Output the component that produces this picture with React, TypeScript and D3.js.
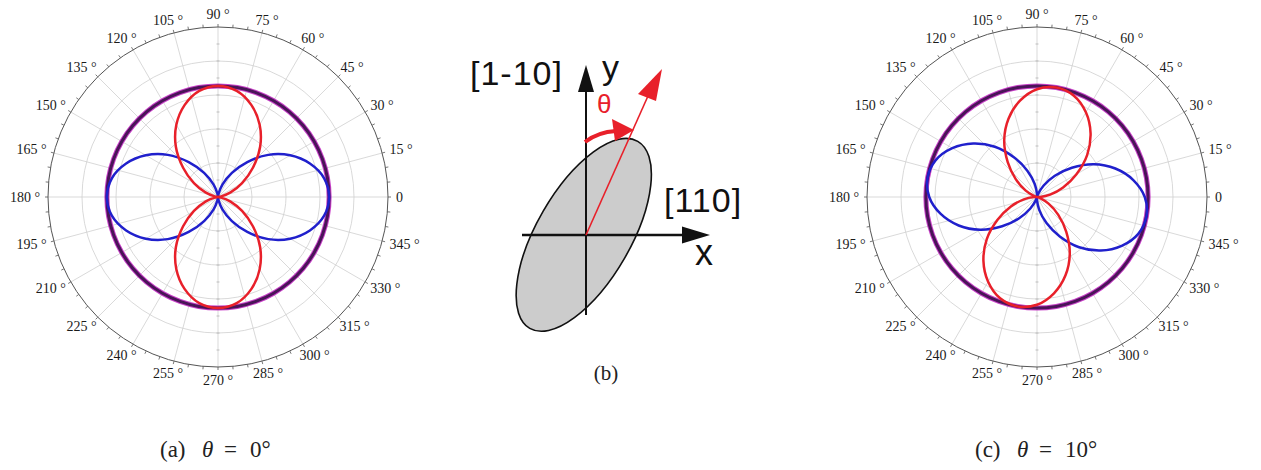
import React, { useEffect, useRef } from "react";
import * as d3 from "d3";

// sampled intensity, every 10 deg from 0 to 350 (normalised)
const sampleAngles = d3.range(0, 360, 10);

// panel (a), theta = 0
const blueA = [1, 0.97, 0.88, 0.75, 0.59, 0.41, 0.25, 0.12, 0.03, 0, 0.03, 0.12, 0.25, 0.41, 0.59, 0.75, 0.88, 0.97,
  1, 0.97, 0.88, 0.75, 0.59, 0.41, 0.25, 0.12, 0.03, 0, 0.03, 0.12, 0.25, 0.41, 0.59, 0.75, 0.88, 0.97];
const redA = [0, 0.03, 0.12, 0.25, 0.41, 0.59, 0.75, 0.88, 0.97, 1, 0.97, 0.88, 0.75, 0.59, 0.41, 0.25, 0.12, 0.03,
  0, 0.03, 0.12, 0.25, 0.41, 0.59, 0.75, 0.88, 0.97, 1, 0.97, 0.88, 0.75, 0.59, 0.41, 0.25, 0.12, 0.03];

// panel (c), theta = 10
const blueC = [0.97, 0.88, 0.75, 0.59, 0.41, 0.25, 0.12, 0.03, 0, 0.03, 0.12, 0.25, 0.41, 0.59, 0.75, 0.88, 0.97, 1,
  0.97, 0.88, 0.75, 0.59, 0.41, 0.25, 0.12, 0.03, 0, 0.03, 0.12, 0.25, 0.41, 0.59, 0.75, 0.88, 0.97, 1];
const redC = [0.03, 0.12, 0.25, 0.41, 0.59, 0.75, 0.88, 0.97, 1, 0.97, 0.88, 0.75, 0.59, 0.41, 0.25, 0.12, 0.03, 0,
  0.03, 0.12, 0.25, 0.41, 0.59, 0.75, 0.88, 0.97, 1, 0.97, 0.88, 0.75, 0.59, 0.41, 0.25, 0.12, 0.03, 0];

const tickAngles = d3.range(0, 360, 15);
const tickLabels = tickAngles.map(a => (a === 0 ? "0" : `${a} °`));
const ringFractions = [0.2, 0.4, 0.6, 0.8, 1];

const R = 170;
const BLUE = "#2020cc";
const RED = "#e8202a";
const PURPLE = "#4a1458";
const MAGENTA = "#c840c8";

function drawPolar(g: any, blue: number[], red: number[]) {
  const r = d3.scaleLinear().domain([0, 1.53]).range([0, R]);
  const rad = (deg: number) => (deg * Math.PI) / 180;

  // rings and spokes
  g.selectAll(".ring")
    .data(ringFractions.slice(0, -1))
    .join("circle")
    .attr("r", (f: number) => R * f)
    .attr("fill", "none")
    .attr("stroke", "#cfcfcf")
    .attr("stroke-width", 0.8);
  g.selectAll(".spoke")
    .data(tickAngles)
    .join("line")
    .attr("x2", (a: number) => R * Math.cos(rad(a)))
    .attr("y2", (a: number) => -R * Math.sin(rad(a)))
    .attr("stroke", "#cfcfcf")
    .attr("stroke-width", 0.8);

  // small ticks along vertical spoke
  const vt = d3.range(1, 10).flatMap(i => [R * i / 10, -R * i / 10]);
  g.selectAll(".vtick")
    .data(vt)
    .join("line")
    .attr("x1", -1.5)
    .attr("x2", 1.5)
    .attr("y1", (d: number) => d)
    .attr("y2", (d: number) => d)
    .attr("stroke", "#aaa")
    .attr("stroke-width", 0.7);

  g.append("circle").attr("r", R).attr("fill", "none").attr("stroke", "#555").attr("stroke-width", 1);
  g.selectAll(".otick")
    .data(d3.range(0, 360, 5))
    .join("line")
    .attr("x1", (a: number) => R * Math.cos(rad(a)))
    .attr("y1", (a: number) => -R * Math.sin(rad(a)))
    .attr("x2", (a: number) => (R + 3) * Math.cos(rad(a)))
    .attr("y2", (a: number) => -(R + 3) * Math.sin(rad(a)))
    .attr("stroke", "#555")
    .attr("stroke-width", 0.8);

  // angle labels, centred a little outside the rim
  const labels = g.selectAll(".lab")
    .data(tickAngles)
    .join("text")
    .attr("text-anchor", "middle")
    .attr("dominant-baseline", "central")
    .attr("font-family", "Liberation Serif, serif")
    .attr("font-size", 14)
    .attr("fill", "#1a1a1a")
    .text((a: number, i: number) => tickLabels[i]);
  labels.each(function (this: SVGTextElement, a: number) {
    const w = this.getComputedTextLength();
    const c = Math.cos(rad(a)), s = Math.sin(rad(a));
    d3.select(this)
      .attr("x", (R + 8) * c + (w / 2) * c)
      .attr("y", -(R + 8) * s - 5 * s);
  });

  const line = d3.lineRadial<number>()
    .angle((d, i) => rad(90 - sampleAngles[i]))
    .radius(d => r(d))
    .curve(d3.curveCatmullRomClosed.alpha(0.5));

  const total = blue.map((b, i) => b + red[i]);
  g.append("path").attr("d", line(total)).attr("fill", "none").attr("stroke", MAGENTA).attr("stroke-width", 5);
  g.append("path").attr("d", line(total)).attr("fill", "none").attr("stroke", PURPLE).attr("stroke-width", 3);
  g.append("path").attr("d", line(blue)).attr("fill", "none").attr("stroke", BLUE).attr("stroke-width", 2.5);
  g.append("path").attr("d", line(red)).attr("fill", "none").attr("stroke", RED).attr("stroke-width", 2.5);
}

function drawCaption(svg: any, x: number, y: number, tag: string, value: string) {
  const t = svg.append("text")
    .attr("y", y)
    .attr("font-family", "Liberation Serif, serif")
    .attr("font-size", 23)
    .attr("fill", "#222");
  t.append("tspan").attr("x", x).text(tag);
  t.append("tspan").attr("x", x + 42).attr("font-style", "italic").text("θ");
  t.append("tspan").attr("x", x + 64).text("=");
  t.append("tspan").attr("x", x + 90).text(value + "°");
}

function drawDiagram(svg: any) {
  const ox = 586, oy = 235;
  const g = svg.append("g").attr("transform", `translate(${ox},${oy})`);
  // scale for schematic units (1 unit = 1 px)
  const s = d3.scaleLinear().domain([0, 1]).range([0, 1]);

  g.append("ellipse")
    .attr("cx", s(-2)).attr("cy", s(1))
    .attr("rx", s(47)).attr("ry", s(108))
    .attr("transform", "rotate(30)")
    .attr("fill", "#cccccc")
    .attr("stroke", "#111")
    .attr("stroke-width", 1.6);

  // axes
  g.append("line").attr("x1", s(-64)).attr("y1", 0).attr("x2", s(100)).attr("y2", 0)
    .attr("stroke", "#111").attr("stroke-width", 2.5);
  g.append("path").attr("d", `M${s(124)},0 L${s(96)},${s(-8.5)} L${s(96)},${s(8.5)} Z`).attr("fill", "#111");
  g.append("line").attr("x1", 0).attr("y1", s(80)).attr("x2", 0).attr("y2", s(-150))
    .attr("stroke", "#111").attr("stroke-width", 2);
  g.append("path").attr("d", `M0,${s(-170)} L${s(-8)},${s(-143)} L${s(8)},${s(-143)} Z`).attr("fill", "#111");

  // red direction arrow
  g.append("line").attr("x1", 0).attr("y1", 0).attr("x2", s(66)).attr("y2", s(-148))
    .attr("stroke", RED).attr("stroke-width", 1.6);
  g.append("path").attr("d", `M${s(76)},${s(-166)} L${s(52)},${s(-141)} L${s(70)},${s(-134)} Z`).attr("fill", RED);

  // theta arc
  g.append("path").attr("d", `M${s(-1)},${s(-93)} Q${s(12)},${s(-103)} ${s(30)},${s(-104)}`)
    .attr("fill", "none").attr("stroke", RED).attr("stroke-width", 4);
  g.append("path").attr("d", `M${s(48)},${s(-105)} L${s(26)},${s(-116)} L${s(29)},${s(-94)} Z`).attr("fill", RED);

  const sans = "Liberation Sans, Arial, sans-serif";
  svg.append("text").attr("x", 470).attr("y", 85).attr("font-family", sans).attr("font-size", 34)
    .attr("letter-spacing", 1).attr("fill", "#111").text("[1-10]");
  svg.append("text").attr("x", 602).attr("y", 79).attr("font-family", sans).attr("font-size", 34)
    .attr("fill", "#111").text("y");
  svg.append("text").attr("x", 597).attr("y", 113).attr("font-family", sans).attr("font-size", 26)
    .attr("fill", RED).text("θ");
  svg.append("text").attr("x", 664).attr("y", 212).attr("font-family", sans).attr("font-size", 34)
    .attr("letter-spacing", 1).attr("fill", "#111").text("[110]");
  svg.append("text").attr("x", 695).attr("y", 265).attr("font-family", sans).attr("font-size", 36)
    .attr("fill", "#111").text("x");
  svg.append("text").attr("x", 606).attr("y", 380).attr("text-anchor", "middle")
    .attr("font-family", "Liberation Serif, serif").attr("font-size", 21).attr("fill", "#222").text("(b)");
}

const panels = [
  { id: "a", cx: 218, cy: 197, blue: blueA, red: redA, capX: 160, value: "0" },
  { id: "c", cx: 1037, cy: 197, blue: blueC, red: redC, capX: 975, value: "10" },
];

export default function App() {
  const ref = useRef<SVGSVGElement | null>(null);

  useEffect(() => {
    const svg = d3.select(ref.current);
    svg.selectAll("*").remove();
    svg.append("rect").attr("width", 1261).attr("height", 470).attr("fill", "#fff");

    panels.forEach(p => {
      const g = svg.append("g").attr("transform", `translate(${p.cx},${p.cy})`);
      drawPolar(g, p.blue, p.red);
      drawCaption(svg, p.capX, 457, `(${p.id})`, p.value);
    });
    drawDiagram(svg);
  }, []);

  return (
    <svg ref={ref} width={1261} height={470} style={{ position: "absolute", left: 0, top: 0 }} />
  );
}
